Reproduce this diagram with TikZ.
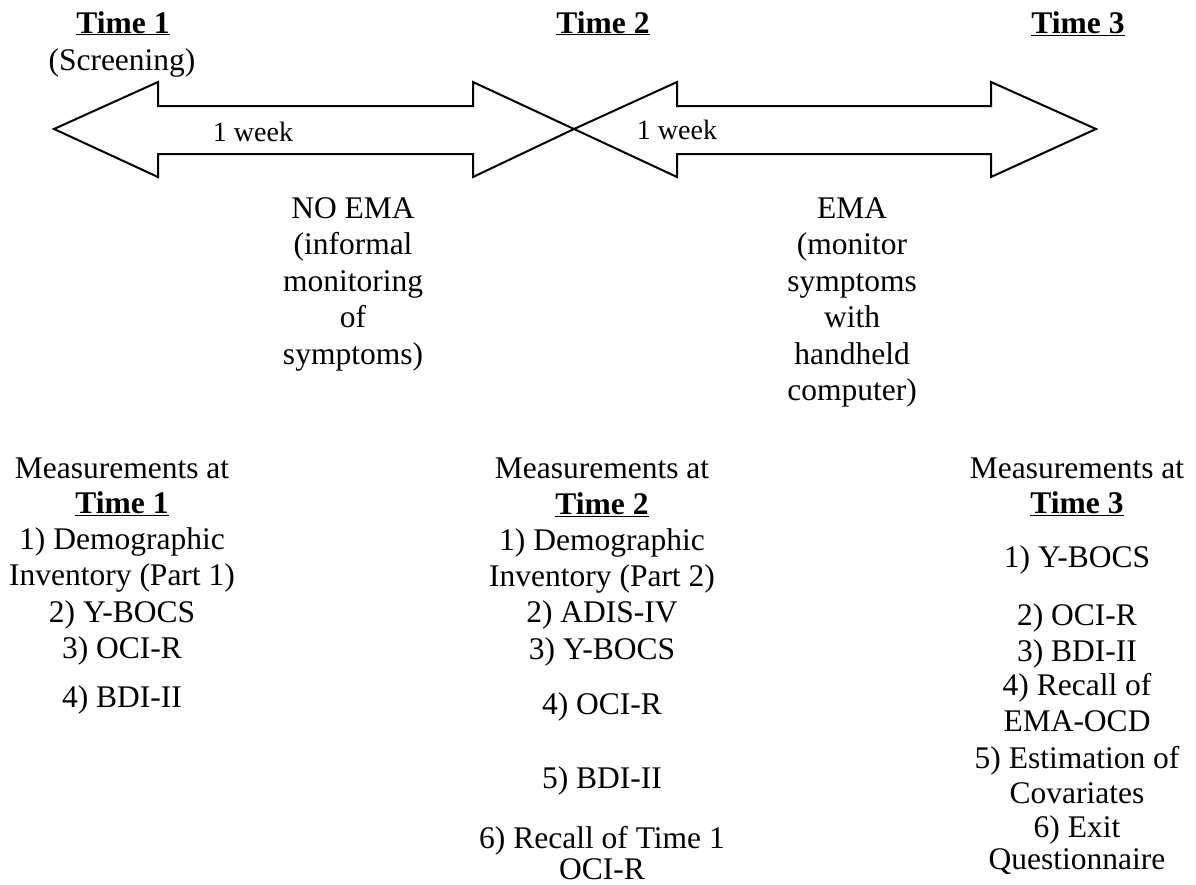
\documentclass[tikz,border=0pt]{standalone}
\usepackage{fontspec}
\setmainfont{Liberation Serif}
\usetikzlibrary{positioning}

\newcommand{\timehead}[1]{\underline{\textbf{Time #1}}}

\begin{document}
\begin{tikzpicture}[x=1pt,y=-1pt,
    txt/.style={font=\fontsize{31.5}{36.5}\selectfont, align=center, inner sep=0pt, anchor=base},
    week/.style={font=\fontsize{28}{32}\selectfont, inner sep=0pt, anchor=base},
    period/.style={txt, anchor=north},
    dblarrow/.style={draw, line width=2pt, line join=miter}
  ]
    \useasboundingbox (0,0) rectangle (1196,884);

    % time points along the top
    \node[txt] (t1) at (123,33) {\timehead{1}};
    \node[txt] (scr) at (122,70) {(Screening)};
    \node[txt] (t2) at (603,33) {\timehead{2}};
    \node[txt] (t3) at (1078,33) {\timehead{3}};

    % the two one-week periods
    \draw[dblarrow] (54,129) -- (158,82) -- (158,106) -- (473,106) -- (473,82)
      -- (574,129) -- (473,177) -- (473,154) -- (158,154) -- (158,177) -- cycle;
    \draw[dblarrow] (574,129) -- (677,82) -- (677,106) -- (991,106) -- (991,82)
      -- (1096,129) -- (991,177) -- (991,154) -- (677,154) -- (677,177) -- cycle;
    \node[week] (w1) at (253,141) {1 week};
    \node[week] (w2) at (677,139) {1 week};

    % what happens in each week
    \node[period] (noema) at (353,197)
      {NO EMA\\(informal\\monitoring\\of\\symptoms)};
    \node[period] (ema) at (852,197)
      {EMA\\(monitor\\symptoms\\with\\handheld\\computer)};

    % measurements taken at each time
    \foreach \y/\t [count=\i] in {478/Measurements at, 513/\timehead{1},
        549/1) Demographic, 585/Inventory (Part 1), 622/2) Y-BOCS,
        658/3) OCI-R, 707/4) BDI-II}
      \node[txt] (ma\i) at (122,\y) {\t};

    \foreach \y/\t [count=\i] in {478/Measurements at, 514/\timehead{2},
        550/1) Demographic, 586/Inventory (Part 2), 622/2) ADIS-IV,
        659/3) Y-BOCS, 714/4) OCI-R, 788/5) BDI-II,
        848/6) Recall of Time 1, 879/OCI-R}
      \node[txt] (mb\i) at (602,\y) {\t};

    \foreach \y/\t [count=\i] in {478/Measurements at, 513/\timehead{3},
        567/1) Y-BOCS, 625/2) OCI-R, 661/3) BDI-II, 695/4) Recall of,
        731/EMA-OCD, 768/5) Estimation of, 803/Covariates,
        837/6) Exit, 869/Questionnaire}
      \node[txt] (mc\i) at (1077,\y) {\t};
\end{tikzpicture}
\end{document}
